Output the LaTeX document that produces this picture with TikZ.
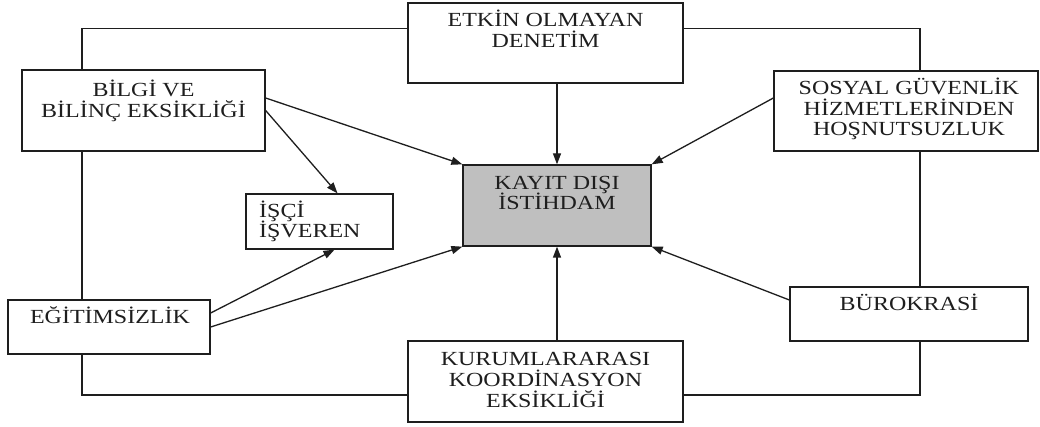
\documentclass[tikz,border=0pt]{standalone}
\usepackage{fontspec}
\setmainfont{Liberation Serif}[FakeStretch=1.2]
\usetikzlibrary{arrows.meta}
\definecolor{ink}{HTML}{1E1E1E}
\definecolor{boxgray}{HTML}{BFBFBF}
\begin{document}
\begin{tikzpicture}[x=1pt,y=-1pt,
  boxnode/.style={draw=ink,line width=1.3pt,rectangle,inner sep=0pt,fill=white},
  txt/.style={inner sep=0pt,anchor=base,align=center,text=ink,font=\fontsize{20}{20.8}\selectfont},
  link/.style={draw=ink,line width=1.3pt},
  arr/.style={draw=ink,line width=1.3pt,-{Triangle[length=11pt,width=8pt]}}]
\useasboundingbox[fill=white] (0,0) rectangle (1040,427);
% boxes
\node[boxnode,minimum width=275pt,minimum height=80pt] (etkin) at (545.5,43) {};
\node[boxnode,minimum width=243pt,minimum height=81pt] (bilgi) at (143.5,110.5) {};
\node[boxnode,minimum width=264pt,minimum height=80pt] (sosyal) at (906,111) {};
\node[boxnode,minimum width=147pt,minimum height=55pt] (isci) at (319.5,221.5) {};
\node[boxnode,minimum width=188pt,minimum height=81pt,fill=boxgray] (kayit) at (557,205.5) {};
\node[boxnode,minimum width=202pt,minimum height=54pt] (egitim) at (109,327) {};
\node[boxnode,minimum width=238pt,minimum height=54pt] (burok) at (909,314) {};
\node[boxnode,minimum width=275pt,minimum height=81pt] (kurum) at (545.5,381.5) {};
% texts (base anchor = baseline of the last line)
\node[txt] (etkinT) at (545.5,47.5) {ETKİN OLMAYAN\\DENETİM};
\node[txt] (bilgiT) at (143.5,117.5) {BİLGİ VE\\BİLİNÇ EKSİKLİĞİ};
\node[txt] (sosyalT) at (909,136) {SOSYAL GÜVENLİK\\HİZMETLERİNDEN\\HOŞNUTSUZLUK};
\node[txt,align=left,anchor=base west] (isciT) at (259,238) {İŞÇİ\\İŞVEREN};
\node[txt] (kayitT) at (557,210) {KAYIT DIŞI\\İSTİHDAM};
\node[txt] (egitimT) at (110,323) {EĞİTİMSİZLİK};
\node[txt] (burokT) at (909,310) {BÜROKRASİ};
\node[txt] (kurumT) at (545.5,407) {KURUMLARARASI\\KOORDİNASYON\\EKSİKLİĞİ};
% outer frame connectors
\coordinate (tl) at (82,0);
\coordinate (tr) at (920,0);
\draw[link] (bilgi.north -| tl) |- ([yshift=-26pt]etkin.north west);
\draw[link] ([yshift=-26pt]etkin.north east) -| (sosyal.north -| tr);
\draw[link] (bilgi.south -| tl) -- (egitim.north -| tl);
\draw[link] (sosyal.south -| tr) -- (burok.north -| tr);
\draw[link] (egitim.south -| tl) |- ([yshift=-13.5pt]kurum.west);
\draw[link] (burok.south -| tr) |- ([yshift=-13.5pt]kurum.east);
% arrows
\draw[arr] (etkin.south -| kayit.north) -- (kayit.north);
\draw[arr] (kurum.north -| kayit.south) -- (kayit.south);
\draw[arr] ([yshift=12.5pt]bilgi.east) -- (kayit.north west);
\draw[arr] (bilgi.east) -- ([xshift=18pt]isci.north);
\draw[arr] ([yshift=14pt]egitim.east) -- ([xshift=15pt]isci.south);
\draw[arr] (egitim.east) -- (kayit.south west);
\draw[arr] ([yshift=13pt]sosyal.west) -- (kayit.north east);
\draw[arr] ([yshift=14pt]burok.west) -- (kayit.south east);
\end{tikzpicture}
\end{document}
